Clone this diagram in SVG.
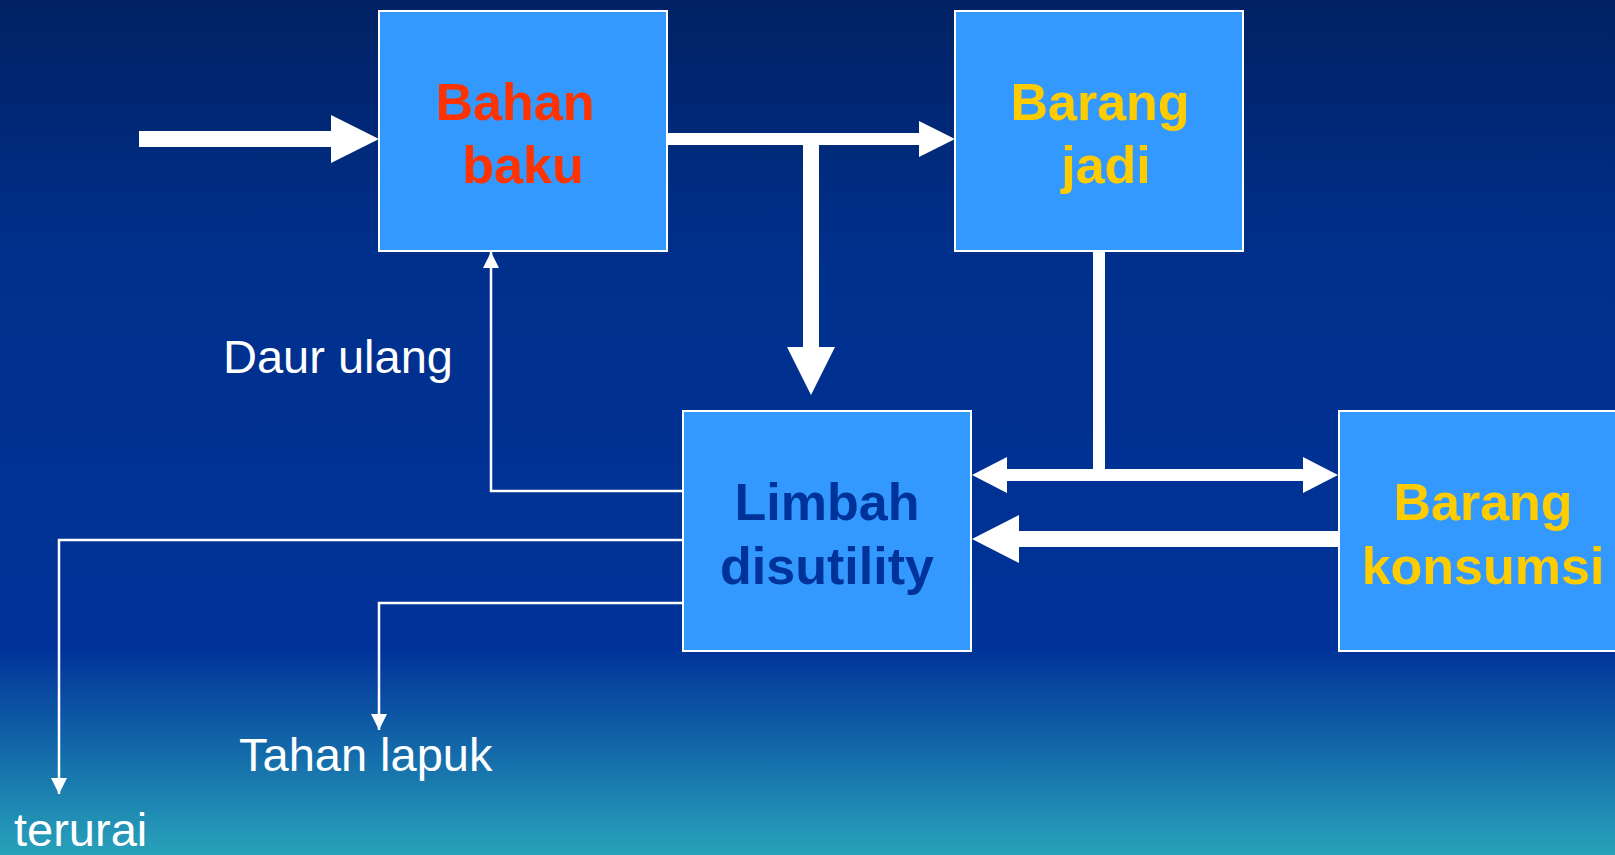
<svg xmlns="http://www.w3.org/2000/svg" width="1615" height="855" viewBox="0 0 1615 855">
<defs>
<linearGradient id="bg" x1="0" y1="0" x2="0" y2="1">
<stop offset="0" stop-color="#012163"/>
<stop offset="0.3" stop-color="#00308C"/>
<stop offset="0.76" stop-color="#003399"/>
<stop offset="1" stop-color="#28A2BA"/>
</linearGradient>
<marker id="sm" markerUnits="userSpaceOnUse" markerWidth="16" markerHeight="16" viewBox="0 0 16 16" refX="16" refY="8" orient="auto">
<path d="M0,0 L16,8 L0,16 Z" fill="#FFFFFF"/>
</marker>
<style>
.box{fill:#3399FF;stroke:#FFFFFF;stroke-width:2}
.bl{font-family:"Liberation Sans",Arial,sans-serif;font-weight:bold;font-size:52px;text-anchor:middle}
.lbl{font-family:"Liberation Sans",Arial,sans-serif;font-size:47px;fill:#FFFFFF}
.thin{fill:none;stroke:#FFFFFF;stroke-width:2.5}
.thick{fill:#FFFFFF}
</style>
</defs>
<rect x="0" y="0" width="1615" height="855" fill="url(#bg)"/>
<g id="connectors">
<polygon class="thick" points="139,131 331,131 331,115 379,139 331,163 331,147 139,147"/>
<polygon class="thick" points="667,133 919,133 919,121 955,139 919,157 919,145 819,145 819,347 835,347 811,395 787,347 803,347 803,145 667,145"/>
<rect class="thick" x="1093" y="251" width="12" height="224"/>
<polygon class="thick" points="972,475 1007,457 1007,469 1303,469 1303,457 1338,475 1303,493 1303,481 1007,481 1007,493"/>
<polygon class="thick" points="1338,531 1019,531 1019,515 972,539 1019,563 1019,547 1338,547"/>
<polyline class="thin" points="682,491 491,491 491,252" marker-end="url(#sm)"/>
<polyline class="thin" points="682,540 59,540 59,794" marker-end="url(#sm)"/>
<polyline class="thin" points="682,603 379,603 379,730" marker-end="url(#sm)"/>
</g>
<g id="bahan-baku">
<rect class="box" x="379" y="11" width="288" height="240"/>
<text class="bl" fill="#FF3300"><tspan x="515" y="120">Bahan</tspan><tspan x="523" y="183">baku</tspan></text>
</g>
<g id="barang-jadi">
<rect class="box" x="955" y="11" width="288" height="240"/>
<text class="bl" fill="#FFCC00"><tspan x="1100" y="120">Barang</tspan><tspan x="1106" y="183">jadi</tspan></text>
</g>
<g id="limbah">
<rect class="box" x="683" y="411" width="288" height="240"/>
<text class="bl" fill="#003399"><tspan x="827" y="520">Limbah</tspan><tspan x="827" y="584">disutility</tspan></text>
</g>
<g id="barang-konsumsi">
<rect class="box" x="1339" y="411" width="288" height="240"/>
<text class="bl" fill="#FFCC00"><tspan x="1483" y="520">Barang</tspan><tspan x="1483" y="584">konsumsi</tspan></text>
</g>
<g id="labels">
<text class="lbl" x="223" y="373">Daur ulang</text>
<text class="lbl" x="239" y="771">Tahan lapuk</text>
<text class="lbl" x="14" y="846">terurai</text>
</g>
</svg>
